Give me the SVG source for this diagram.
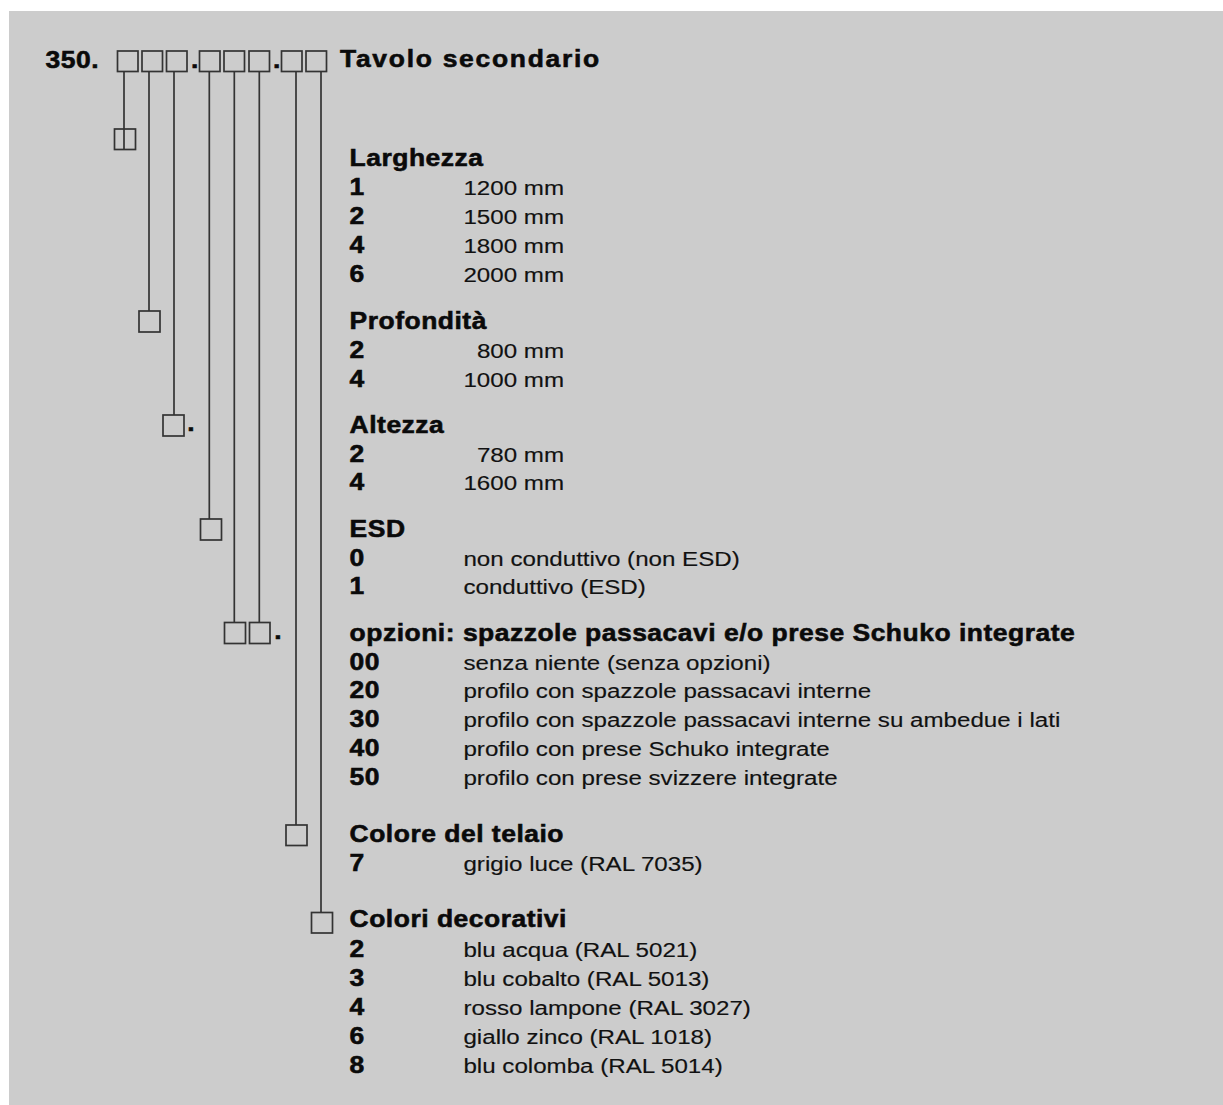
<svg xmlns="http://www.w3.org/2000/svg" width="1223" height="1105" viewBox="0 0 1223 1105">
<style>
.box{fill:none;stroke:#333;stroke-width:1.7}
.ln{stroke:#333;stroke-width:1.7;fill:none}
.b{font-family:"Liberation Sans",Arial,sans-serif;font-weight:bold;font-size:23px;letter-spacing:0.45px;fill:#0a0a0a;stroke:#0a0a0a;stroke-width:0.55px}
.t{font-family:"Liberation Sans",Arial,sans-serif;font-weight:bold;font-size:23px;letter-spacing:1.5px;fill:#0a0a0a;stroke:#0a0a0a;stroke-width:0.55px}
.r{font-family:"Liberation Sans",Arial,sans-serif;font-size:21px;fill:#111;stroke:#111;stroke-width:0.15px}
</style>
<rect x="0" y="0" width="1223" height="1105" fill="#ffffff"/>
<rect x="9" y="11" width="1214" height="1094" fill="#cccccc"/>

<g id="connectors">
<line class="ln" x1="124" y1="71" x2="124" y2="149.5"/>
<line class="ln" x1="149" y1="71" x2="149" y2="311"/>
<line class="ln" x1="174" y1="71" x2="174" y2="415"/>
<line class="ln" x1="209.3" y1="71" x2="209.3" y2="519"/>
<line class="ln" x1="234.3" y1="71" x2="234.3" y2="622.5"/>
<line class="ln" x1="259.3" y1="71" x2="259.3" y2="622.5"/>
<line class="ln" x1="296" y1="71" x2="296" y2="825"/>
<line class="ln" x1="321" y1="71" x2="321" y2="912.5"/>
</g>

<g id="code-header">
<rect class="box" x="117.5" y="51" width="20.5" height="20.5"/>
<rect class="box" x="142" y="51" width="20.5" height="20.5"/>
<rect class="box" x="166.5" y="51" width="20.5" height="20.5"/>
<rect class="box" x="199.5" y="51" width="20.5" height="20.5"/>
<rect class="box" x="224" y="51" width="20.5" height="20.5"/>
<rect class="box" x="249" y="51" width="20.5" height="20.5"/>
<rect class="box" x="281.5" y="51" width="20.5" height="20.5"/>
<rect class="box" x="306" y="51" width="20.5" height="20.5"/>
<g transform="scale(1.15,1)">
<text class="b" x="39.6" y="68">350.</text>
<text class="b" x="166.1" y="68">.</text>
<text class="b" x="237.4" y="68">.</text>
<text class="t" x="295.7" y="67.5">Tavolo secondario</text>
</g>
</g>

<g id="larghezza">
<rect class="box" x="114.5" y="129" width="21" height="20.5"/>
<g transform="scale(1.15,1)">
<text class="b" x="304" y="166">Larghezza</text>
<text class="b" x="304" y="195.5">1</text><text class="r" x="403" y="195.5">1200 mm</text>
<text class="b" x="304" y="224.5">2</text><text class="r" x="403" y="224.5">1500 mm</text>
<text class="b" x="304" y="253.5">4</text><text class="r" x="403" y="253.5">1800 mm</text>
<text class="b" x="304" y="282.5">6</text><text class="r" x="403" y="282.5">2000 mm</text>
</g>
</g>

<g id="profondita">
<rect class="box" x="139" y="311" width="21" height="21"/>
<g transform="scale(1.15,1)">
<text class="b" x="304" y="329">Profondità</text>
<text class="b" x="304" y="358.5">2</text><text class="r" x="414.7" y="358.5">800 mm</text>
<text class="b" x="304" y="387.5">4</text><text class="r" x="403" y="387.5">1000 mm</text>
</g>
</g>

<g id="altezza">
<rect class="box" x="163" y="415" width="21" height="21"/>
<g transform="scale(1.15,1)">
<text class="b" x="162.9" y="431">.</text>
<text class="b" x="304" y="433">Altezza</text>
<text class="b" x="304" y="462.5">2</text><text class="r" x="414.7" y="462.5">780 mm</text>
<text class="b" x="304" y="490.5">4</text><text class="r" x="403" y="490.5">1600 mm</text>
</g>
</g>

<g id="esd">
<rect class="box" x="200.5" y="519" width="21" height="21"/>
<g transform="scale(1.15,1)">
<text class="b" x="304" y="537">ESD</text>
<text class="b" x="304" y="566.5">0</text><text class="r" x="403" y="566.5">non conduttivo (non ESD)</text>
<text class="b" x="304" y="594.5">1</text><text class="r" x="403" y="594.5">conduttivo (ESD)</text>
</g>
</g>

<g id="opzioni">
<rect class="box" x="224.5" y="622.5" width="21" height="21"/>
<rect class="box" x="249.5" y="622.5" width="20.5" height="21"/>
<g transform="scale(1.15,1)">
<text class="b" x="238.5" y="639">.</text>
<text class="b" x="304" y="641">opzioni: spazzole passacavi e/o prese Schuko integrate</text>
<text class="b" x="304" y="670.5">00</text><text class="r" x="403" y="670.5">senza niente (senza opzioni)</text>
<text class="b" x="304" y="698.5">20</text><text class="r" x="403" y="698.5">profilo con spazzole passacavi interne</text>
<text class="b" x="304" y="727.5">30</text><text class="r" x="403" y="727.5">profilo con spazzole passacavi interne su ambedue i lati</text>
<text class="b" x="304" y="756.5">40</text><text class="r" x="403" y="756.5">profilo con prese Schuko integrate</text>
<text class="b" x="304" y="785.5">50</text><text class="r" x="403" y="785.5">profilo con prese svizzere integrate</text>
</g>
</g>

<g id="colore-telaio">
<rect class="box" x="286" y="825" width="21" height="20.5"/>
<g transform="scale(1.15,1)">
<text class="b" x="304" y="842">Colore del telaio</text>
<text class="b" x="304" y="871.5">7</text><text class="r" x="403" y="871.5">grigio luce (RAL 7035)</text>
</g>
</g>

<g id="colori-decorativi">
<rect class="box" x="311.5" y="912.5" width="21" height="20.5"/>
<g transform="scale(1.15,1)">
<text class="b" x="304" y="927">Colori decorativi</text>
<text class="b" x="304" y="957.5">2</text><text class="r" x="403" y="957.5">blu acqua (RAL 5021)</text>
<text class="b" x="304" y="986.5">3</text><text class="r" x="403" y="986.5">blu cobalto (RAL 5013)</text>
<text class="b" x="304" y="1015">4</text><text class="r" x="403" y="1015">rosso lampone (RAL 3027)</text>
<text class="b" x="304" y="1044">6</text><text class="r" x="403" y="1044">giallo zinco (RAL 1018)</text>
<text class="b" x="304" y="1073">8</text><text class="r" x="403" y="1073">blu colomba (RAL 5014)</text>
</g>
</g>
</svg>
